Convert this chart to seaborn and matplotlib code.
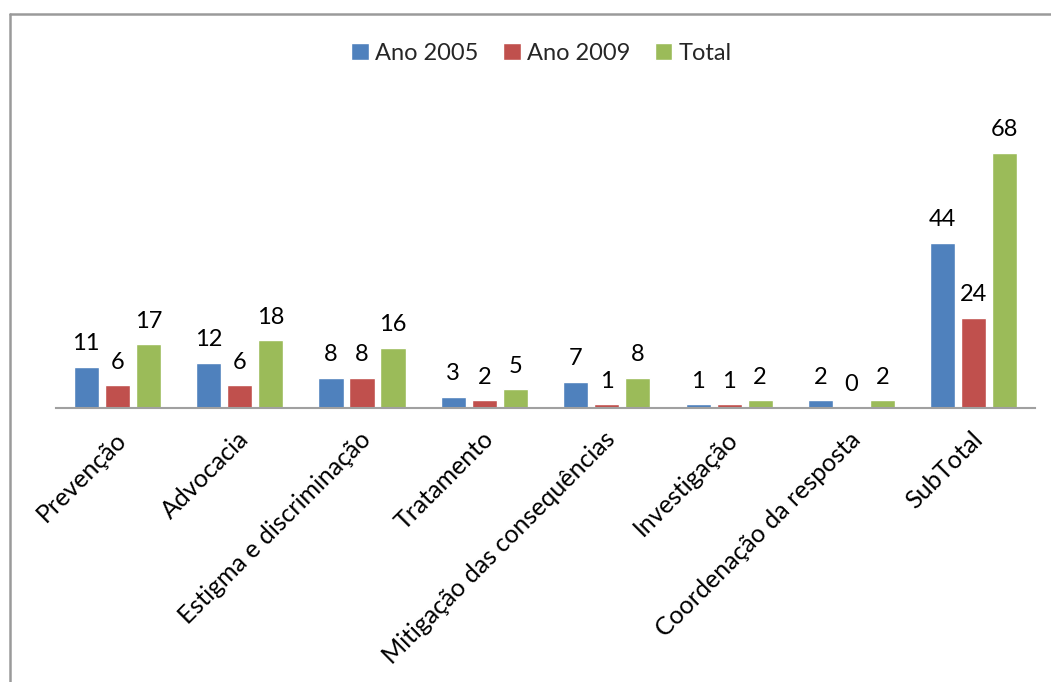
import matplotlib
matplotlib.use("Agg")
import matplotlib.pyplot as plt
from matplotlib.lines import Line2D
import seaborn as sns
import pandas as pd

categories = ["Prevenção", "Advocacia", "Estigma e discriminação", "Tratamento",
              "Mitigação das consequências", "Investigação",
              "Coordenação da resposta", "SubTotal"]
ano_2005 = [11, 12, 8, 3, 7, 1, 2, 44]
ano_2009 = [6, 6, 8, 2, 1, 1, 0, 24]
total = [17, 18, 16, 5, 8, 2, 2, 68]
series_names = ["Ano 2005", "Ano 2009", "Total"]
colors = ["#4F81BD", "#C0504D", "#9BBB59"]

rows = []
for name, vals in zip(series_names, [ano_2005, ano_2009, total]):
    for cat, v in zip(categories, vals):
        rows.append({"categoria": cat, "serie": name, "valor": v})
df = pd.DataFrame(rows)

sns.set_theme(style="white")
plt.rcParams["font.family"] = ["Lato", "DejaVu Sans"]

fig = plt.figure(figsize=(10.51, 6.82), dpi=100)
ax = fig.add_axes([0.0533, 0.4018, 0.9315, 0.44])

sns.barplot(data=df, x="categoria", y="valor", hue="serie", order=categories,
            hue_order=series_names, palette=colors, width=0.76, gap=0.19,
            saturation=1, ax=ax, legend=True)

for cont in ax.containers:
    ax.bar_label(cont, padding=9, fontsize=17, color="black")

ax.set_ylim(0, 80)
ax.set_xlim(-0.5, 7.5)
ax.set_xlabel("")
ax.set_ylabel("")
ax.set_yticks([])
for side in ["top", "right", "left"]:
    ax.spines[side].set_visible(False)
ax.spines["bottom"].set_color("#A0A0A0")
ax.spines["bottom"].set_linewidth(1.5)
ax.tick_params(axis="x", length=0, pad=14)
ax.set_xticks(range(len(categories)))
ax.set_xticklabels(categories, rotation=45, ha="right", rotation_mode="anchor",
                   fontsize=18, color="black")
for lbl in ax.get_xticklabels():
    lbl.set_transform(lbl.get_transform() +
                      matplotlib.transforms.ScaledTranslation(-0.03, 0, fig.dpi_scale_trans))

leg = ax.legend(loc="center", bbox_to_anchor=(0.515, 0.922), bbox_transform=fig.transFigure,
                ncol=3, frameon=False, fontsize=17, handlelength=0.75, handleheight=0.75,
                handletextpad=0.25, columnspacing=1.05)

# chart-area frame
fig.add_artist(Line2D([10 / 1051, 1.0], [1 - 14 / 682, 1 - 14 / 682],
                      transform=fig.transFigure, color="#9A9A9A", linewidth=1.8))
fig.add_artist(Line2D([10 / 1051, 10 / 1051], [0.0, 1 - 14 / 682],
                      transform=fig.transFigure, color="#9A9A9A", linewidth=1.8))

fig.savefig("out.png", dpi=100, facecolor="white")
